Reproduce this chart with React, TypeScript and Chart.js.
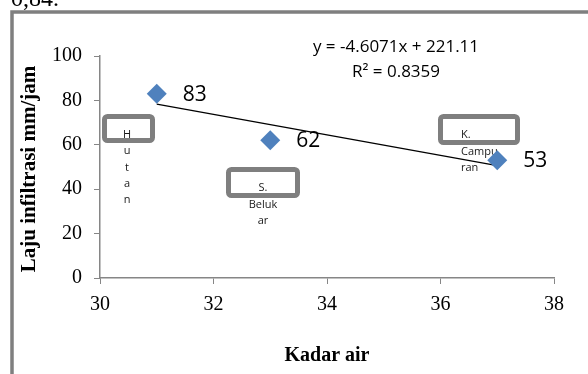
import React, { useEffect, useRef } from "react";
import { Chart, registerables } from "chart.js";

Chart.register(...registerables);

// ---- data ----
const categories = ["Hutan", "S. Belukar", "K. Campuran"];
const kadarAir = [31, 33, 37];
const lajuInfiltrasi = [83, 62, 53];
const xTickValues = [30, 32, 34, 36, 38];
const yTickValues = [0, 20, 40, 60, 80, 100];
const equationText = "y = -4.6071x + 221.11";
const r2Text = "R² = 0.8359";
const topText = "0,84.";
const xTitle = "Kadar air";
const yTitle = "Laju infiltrasi mm/jam";
const boxLabelLines = [
  ["H", "u", "t", "a", "n"],
  ["S.", "Beluk", "ar"],
  ["K.", "Campu", "ran"],
];

// least-squares trendline from the data
function trend(xs: number[], ys: number[]) {
  const n = xs.length;
  const mx = xs.reduce((a, b) => a + b, 0) / n;
  const my = ys.reduce((a, b) => a + b, 0) / n;
  let sxy = 0;
  let sxx = 0;
  for (let i = 0; i < n; i++) {
    sxy += (xs[i] - mx) * (ys[i] - my);
    sxx += (xs[i] - mx) * (xs[i] - mx);
  }
  const m = sxy / sxx;
  const b = my - m * mx;
  return { m, b };
}

const fit = trend(kadarAir, lajuInfiltrasi);
const xMin = Math.min(...kadarAir);
const xMax = Math.max(...kadarAir);

// annotation box styling (pixel layout)
const boxes = [
  { x: 104.5, y: 116.5, w: 48, h: 24, align: "center", tx: 127, ty: 135, lh: 16.2 },
  { x: 228.5, y: 169.5, w: 69, h: 26, align: "center", tx: 263, ty: 188, lh: 16.5 },
  { x: 440.5, y: 116.5, w: 77, h: 26, align: "left", tx: 461, ty: 135, lh: 16.5 },
];

const SERIF = '"Liberation Serif", "Times New Roman", serif';
const SANS = '"Open Sans", "Noto Sans", sans-serif';

const decorPlugin = {
  id: "decor",
  beforeDraw(chart: any) {
    const ctx = chart.ctx as CanvasRenderingContext2D;
    ctx.save();
    ctx.fillStyle = "#ffffff";
    ctx.fillRect(0, 0, chart.width, chart.height);
    // clipped text at top
    ctx.fillStyle = "#000";
    ctx.font = `24px ${SERIF}`;
    ctx.textAlign = "left";
    ctx.textBaseline = "alphabetic";
    ctx.fillText(topText, 11, 6);
    // outer frame
    ctx.strokeStyle = "#7f7f7f";
    ctx.lineWidth = 3.5;
    ctx.beginPath();
    ctx.moveTo(12, chart.height + 2);
    ctx.lineTo(12, 12);
    ctx.lineTo(chart.width + 2, 12);
    ctx.stroke();
    // axis titles
    ctx.fillStyle = "#000";
    ctx.font = `bold 20px ${SERIF}`;
    ctx.textAlign = "center";
    ctx.textBaseline = "middle";
    ctx.fillText(xTitle, 327, 356);
    ctx.save();
    ctx.translate(30, 169);
    ctx.rotate(-Math.PI / 2);
    ctx.font = `bold 21px ${SERIF}`;
    ctx.fillText(yTitle, 0, 0);
    ctx.restore();
    ctx.restore();
  },
  beforeDatasetsDraw(chart: any) {
    const ctx = chart.ctx as CanvasRenderingContext2D;
    ctx.save();
    boxes.forEach((b, i) => {
      ctx.strokeStyle = "#7f7f7f";
      ctx.fillStyle = "#ffffff";
      ctx.lineWidth = 5;
      ctx.beginPath();
      (ctx as any).roundRect(b.x, b.y, b.w, b.h, 3);
      ctx.fill();
      ctx.stroke();
      ctx.fillStyle = "#1a1a1a";
      ctx.font = `11px ${SANS}`;
      ctx.textAlign = b.align as CanvasTextAlign;
      ctx.textBaseline = "middle";
      boxLabelLines[i].forEach((line, j) => {
        ctx.fillText(line, b.tx, b.ty + j * b.lh);
      });
    });
    ctx.restore();
  },
  afterDatasetsDraw(chart: any) {
    const ctx = chart.ctx as CanvasRenderingContext2D;
    const meta = chart.getDatasetMeta(1);
    ctx.save();
    ctx.fillStyle = "#000";
    ctx.font = `21px ${SANS}`;
    ctx.textAlign = "left";
    ctx.textBaseline = "middle";
    meta.data.forEach((pt: any, i: number) => {
      ctx.fillText(String(lajuInfiltrasi[i]), pt.x + 26, pt.y + 1);
    });
    ctx.font = `17px ${SANS}`;
    ctx.textAlign = "center";
    ctx.fillText(equationText, 396, 47);
    ctx.fillText(r2Text, 396, 72);
    ctx.restore();
  },
};

export default function App() {
  const ref = useRef<HTMLCanvasElement>(null);
  useEffect(() => {
    document.body.style.margin = "0";
    const canvas = ref.current!;
    const chart = new Chart(canvas, {
      type: "scatter",
      data: {
        datasets: [
          {
            label: "Linear",
            type: "line",
            data: [
              { x: xMin, y: fit.m * xMin + fit.b },
              { x: xMax, y: fit.m * xMax + fit.b },
            ],
            borderColor: "#000000",
            borderWidth: 1.3,
            pointRadius: 0,
            fill: false,
            order: 2,
          } as any,
          {
            label: "Laju infiltrasi",
            data: kadarAir.map((x, i) => ({ x, y: lajuInfiltrasi[i] })),
            pointStyle: "rectRot",
            pointRadius: 10,
            pointHoverRadius: 10,
            backgroundColor: "#4F81BD",
            borderColor: "#4F81BD",
            borderWidth: 0,
            order: 1,
          },
        ],
      },
      options: {
        animation: false,
        responsive: false,
        events: [],
        layout: { padding: { top: 56, right: 34, left: 0, bottom: 0 } },
        plugins: {
          legend: { display: false },
          tooltip: { enabled: false },
          title: { display: false },
        },
        scales: {
          x: {
            type: "linear",
            min: 30,
            max: 38,
            afterBuildTicks: (s: any) => {
              s.ticks = xTickValues.map((v) => ({ value: v }));
            },
            afterFit: (s: any) => {
              s.height = 96;
            },
            grid: {
              display: true,
              drawOnChartArea: false,
              drawTicks: true,
              tickLength: 6,
              color: "#868686",
            },
            border: { display: true, color: "#868686", width: 1.5 },
            ticks: {
              color: "#000",
              font: { family: SERIF, size: 20 },
              padding: 9,
              maxRotation: 0,
            },
          },
          y: {
            type: "linear",
            min: 0,
            max: 100,
            afterBuildTicks: (s: any) => {
              s.ticks = yTickValues.map((v) => ({ value: v }));
            },
            afterFit: (s: any) => {
              s.width = 100;
            },
            grid: {
              display: true,
              drawOnChartArea: false,
              drawTicks: true,
              tickLength: 6,
              color: "#868686",
            },
            border: { display: true, color: "#868686", width: 1.5 },
            ticks: {
              color: "#000",
              font: { family: SERIF, size: 20 },
              padding: 12,
            },
          },
        },
      },
      plugins: [decorPlugin],
    });
    return () => chart.destroy();
  }, []);
  return (
    <div style={{ position: "absolute", left: 0, top: 0, width: 588, height: 374 }}>
      <canvas ref={ref} width={588} height={374} style={{ display: "block" }} />
    </div>
  );
}
